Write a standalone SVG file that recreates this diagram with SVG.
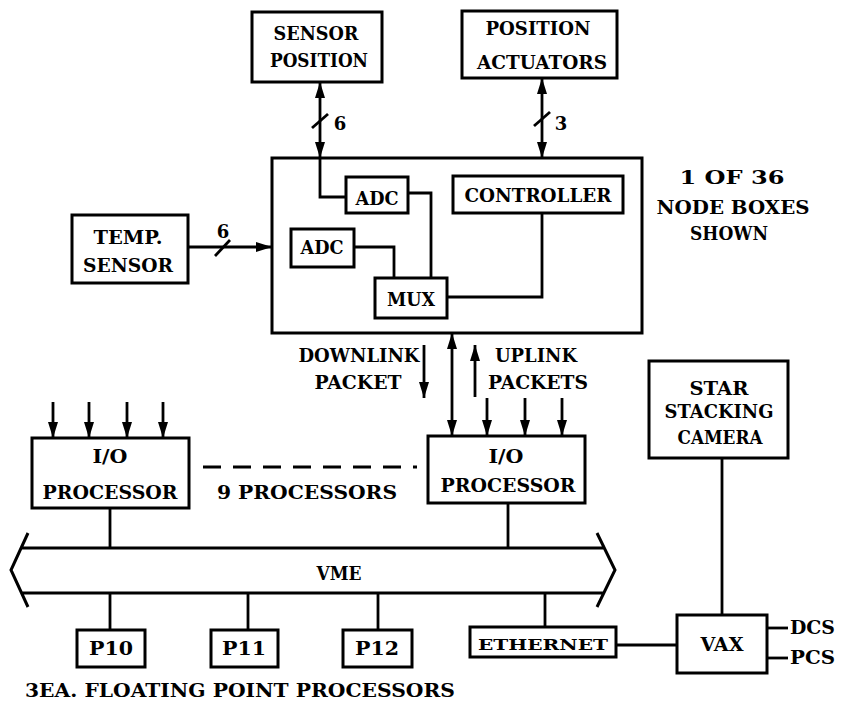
<svg xmlns="http://www.w3.org/2000/svg" width="841" height="702" viewBox="0 0 841 702">
<defs>
<style>
.box{fill:#fff;stroke:#000;stroke-width:3}
.ln{fill:none;stroke:#000;stroke-width:2.8}
.t{font-family:"DejaVu Serif","Liberation Serif",serif;font-weight:bold;font-size:19px;fill:#000;text-anchor:middle}
.s{font-size:18px}
.e{font-size:14px}
</style>
<marker id="ah" viewBox="0 0 16 10" refX="16" refY="5" markerWidth="16" markerHeight="10" markerUnits="userSpaceOnUse" orient="auto-start-reverse">
<path d="M0,0 L16,5 L0,10 z" fill="#000"/>
</marker>
</defs>
<rect width="841" height="702" fill="#fff"/>

<g id="connectors">
<path class="ln" d="M320,82 V158" marker-start="url(#ah)" marker-end="url(#ah)"/>
<path class="ln" d="M312,128 L328,114"/>
<path class="ln" d="M542,78 V158" marker-start="url(#ah)" marker-end="url(#ah)"/>
<path class="ln" d="M534,126 L550,112"/>
<path class="ln" d="M320,158 V197 H346"/>
<path class="ln" d="M408,193 H431 V278"/>
<path class="ln" d="M354,247 H394 V278"/>
<path class="ln" d="M542,213 V297 H447"/>
<path class="ln" d="M188,247 H272" marker-end="url(#ah)"/>
<path class="ln" d="M215,256 L230,240"/>
<path class="ln" d="M452,333 V436" marker-start="url(#ah)" marker-end="url(#ah)"/>
<path class="ln" d="M424,345 V398" marker-end="url(#ah)"/>
<path class="ln" d="M475,397 V345" marker-end="url(#ah)"/>
<path class="ln" d="M487,398 V436" marker-end="url(#ah)"/>
<path class="ln" d="M525,398 V436" marker-end="url(#ah)"/>
<path class="ln" d="M562,398 V436" marker-end="url(#ah)"/>
<path class="ln" d="M53,402 V438" marker-end="url(#ah)"/>
<path class="ln" d="M89,402 V438" marker-end="url(#ah)"/>
<path class="ln" d="M127,402 V438" marker-end="url(#ah)"/>
<path class="ln" d="M163,402 V438" marker-end="url(#ah)"/>
<path class="ln" d="M203,467 H417" stroke-dasharray="18 12"/>
<path class="ln" d="M110,508 V548"/>
<path class="ln" d="M508,503 V548"/>
<path class="ln" d="M110,593 V630"/>
<path class="ln" d="M248,593 V630"/>
<path class="ln" d="M378,593 V630"/>
<path class="ln" d="M545,593 V627"/>
<path class="ln" d="M616,645 H677"/>
<path class="ln" d="M722,458 V615"/>
<path class="ln" d="M767,628 H788"/>
<path class="ln" d="M767,658 H788"/>
<text class="t s" x="340" y="130">6</text>
<text class="t s" x="561" y="130">3</text>
<text class="t s" x="223" y="238">6</text>
</g>

<g id="sensor-position">
<rect class="box" x="252" y="12" width="130" height="70"/>
<text class="t" x="316" y="40" textLength="85" lengthAdjust="spacingAndGlyphs">SENSOR</text>
<text class="t" x="319" y="67" textLength="98" lengthAdjust="spacingAndGlyphs">POSITION</text>
</g>

<g id="position-actuators">
<rect class="box" x="462" y="11" width="155" height="67"/>
<text class="t" x="538" y="35" textLength="105" lengthAdjust="spacingAndGlyphs">POSITION</text>
<text class="t" x="542" y="69" textLength="130" lengthAdjust="spacingAndGlyphs">ACTUATORS</text>
</g>

<g id="node-box">
<rect class="box" x="272" y="158" width="370" height="175" style="fill:none"/>
</g>

<g id="adc-1">
<rect class="box" x="346" y="177" width="62" height="36"/>
<text class="t" x="377" y="205" textLength="43" lengthAdjust="spacingAndGlyphs">ADC</text>
</g>

<g id="controller">
<rect class="box" x="453" y="176" width="170" height="37"/>
<text class="t" x="538" y="202" textLength="147" lengthAdjust="spacingAndGlyphs">CONTROLLER</text>
</g>

<g id="adc-2">
<rect class="box" x="291" y="229" width="63" height="38"/>
<text class="t" x="322" y="254" textLength="43" lengthAdjust="spacingAndGlyphs">ADC</text>
</g>

<g id="mux">
<rect class="box" x="375" y="278" width="72" height="40"/>
<text class="t" x="411" y="306" textLength="48" lengthAdjust="spacingAndGlyphs">MUX</text>
</g>

<g id="temp-sensor">
<rect class="box" x="72" y="215" width="116" height="68"/>
<text class="t" x="128" y="244" textLength="69" lengthAdjust="spacingAndGlyphs">TEMP.</text>
<text class="t" x="128" y="272" textLength="90" lengthAdjust="spacingAndGlyphs">SENSOR</text>
</g>

<g id="note">
<text class="t" x="732" y="184" textLength="105" lengthAdjust="spacingAndGlyphs">1 OF 36</text>
<text class="t" x="733" y="214" textLength="153" lengthAdjust="spacingAndGlyphs">NODE BOXES</text>
<text class="t" x="729" y="240" textLength="78" lengthAdjust="spacingAndGlyphs">SHOWN</text>
</g>

<g id="link-labels">
<text class="t" x="359" y="362" textLength="121" lengthAdjust="spacingAndGlyphs">DOWNLINK</text>
<text class="t" x="358" y="389" textLength="87" lengthAdjust="spacingAndGlyphs">PACKET</text>
<text class="t" x="536" y="362" textLength="82" lengthAdjust="spacingAndGlyphs">UPLINK</text>
<text class="t" x="538" y="389" textLength="100" lengthAdjust="spacingAndGlyphs">PACKETS</text>
</g>

<g id="io-processor-1">
<rect class="box" x="32" y="438" width="157" height="70"/>
<text class="t" x="110" y="463" textLength="35" lengthAdjust="spacingAndGlyphs">I/O</text>
<text class="t" x="110" y="499" textLength="135" lengthAdjust="spacingAndGlyphs">PROCESSOR</text>
</g>

<g id="nine-processors">
<text class="t" x="307" y="499" textLength="180" lengthAdjust="spacingAndGlyphs">9 PROCESSORS</text>
</g>

<g id="io-processor-2">
<rect class="box" x="428" y="436" width="157" height="67"/>
<text class="t" x="506" y="463" textLength="35" lengthAdjust="spacingAndGlyphs">I/O</text>
<text class="t" x="508" y="492" textLength="135" lengthAdjust="spacingAndGlyphs">PROCESSOR</text>
</g>

<g id="star-stacking-camera">
<rect class="box" x="649" y="361" width="139" height="97"/>
<text class="t" x="719" y="395" textLength="59" lengthAdjust="spacingAndGlyphs">STAR</text>
<text class="t" x="719" y="418" textLength="109" lengthAdjust="spacingAndGlyphs">STACKING</text>
<text class="t" x="720" y="444" textLength="85" lengthAdjust="spacingAndGlyphs">CAMERA</text>
</g>

<g id="vme-bus">
<path class="ln" style="stroke-width:3" d="M28,533 L11,570 L28,607 M597,533 L615,570 L597,607 M21,548 H604 M21,593 H604"/>
<text class="t" x="339" y="580" textLength="45" lengthAdjust="spacingAndGlyphs">VME</text>
</g>

<g id="p10">
<rect class="box" x="77" y="630" width="68" height="37"/>
<text class="t" x="111" y="655" textLength="44" lengthAdjust="spacingAndGlyphs">P10</text>
</g>
<g id="p11">
<rect class="box" x="211" y="630" width="67" height="37"/>
<text class="t" x="244" y="655" textLength="44" lengthAdjust="spacingAndGlyphs">P11</text>
</g>
<g id="p12">
<rect class="box" x="343" y="630" width="69" height="37"/>
<text class="t" x="377" y="655" textLength="44" lengthAdjust="spacingAndGlyphs">P12</text>
</g>

<g id="fpp-label">
<text class="t" x="25" y="697" style="text-anchor:start" textLength="430" lengthAdjust="spacingAndGlyphs">3EA. FLOATING POINT PROCESSORS</text>
</g>

<g id="ethernet">
<rect class="box" x="470" y="627" width="146" height="30"/>
<text class="t e" x="543" y="650" textLength="130" lengthAdjust="spacingAndGlyphs">ETHERNET</text>
</g>

<g id="vax">
<rect class="box" x="677" y="615" width="90" height="58"/>
<text class="t" x="722" y="651" textLength="43" lengthAdjust="spacingAndGlyphs">VAX</text>
<text class="t" x="790" y="634" style="text-anchor:start" textLength="45" lengthAdjust="spacingAndGlyphs">DCS</text>
<text class="t" x="790" y="664" style="text-anchor:start" textLength="45" lengthAdjust="spacingAndGlyphs">PCS</text>
</g>
</svg>
